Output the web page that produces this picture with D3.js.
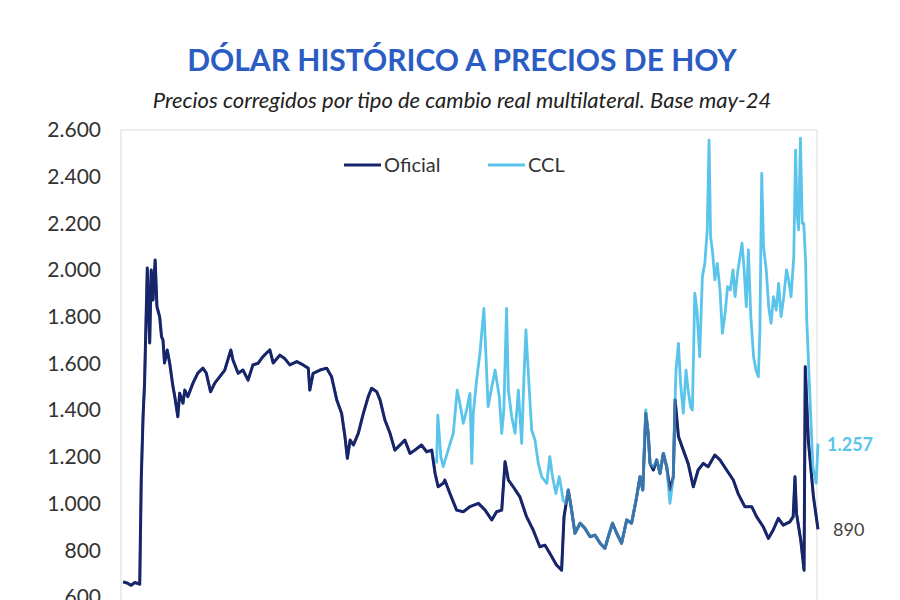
<!DOCTYPE html>
<html>
<head>
<meta charset="utf-8">
<script src="https://cdn.jsdelivr.net/npm/d3@7"></script>
<style>
  html, body { margin: 0; padding: 0; background: #fff; }
  svg { display: block; font-family: Lato, "Open Sans", sans-serif; }
</style>
</head>
<body>
<div id="chart"></div>
<script>
// ---- Data (decimal years, values in pesos at May-24 prices) ----
const oficialT = [2001.45,2001.58,2001.71,2001.84,2002.00,2002.05,2002.11,2002.16,2002.25,2002.33,2002.38,2002.44,2002.51,2002.57,2002.66,2002.72,2002.77,2002.82,2002.91,2002.99,2003.10,2003.16,2003.26,2003.32,2003.43,2003.49,2003.59,2003.76,2003.92,2004.09,2004.20,2004.34,2004.48,2004.64,2004.81,2005.01,2005.08,2005.25,2005.41,2005.58,2005.74,2005.91,2006.07,2006.19,2006.30,2006.41,2006.63,2006.80,2006.96,2007.19,2007.40,2007.57,2007.62,2007.73,2007.96,2008.18,2008.34,2008.51,2008.67,2008.78,2008.86,2008.95,2009.06,2009.22,2009.39,2009.55,2009.66,2009.83,2009.94,2010.10,2010.27,2010.43,2010.60,2010.76,2010.93,2011.09,2011.31,2011.48,2011.65,2011.76,2011.86,2012.03,2012.08,2012.25,2012.47,2012.69,2012.91,2013.19,2013.41,2013.63,2013.79,2013.96,2014.07,2014.18,2014.34,2014.56,2014.78,2015.00,2015.22,2015.39,2015.55,2015.77,2015.94,2016.02,2016.16,2016.27,2016.38,2016.55,2016.71,2016.88,2017.04,2017.21,2017.37,2017.48,2017.62,2017.76,2017.92,2018.09,2018.25,2018.40,2018.53,2018.62,2018.72,2018.80,2018.86,2018.97,2019.08,2019.19,2019.30,2019.41,2019.52,2019.63,2019.69,2019.80,2019.96,2020.12,2020.29,2020.45,2020.62,2020.78,2021.00,2021.17,2021.39,2021.61,2021.77,2021.99,2022.22,2022.38,2022.60,2022.77,2022.93,2023.10,2023.26,2023.48,2023.59,2023.65,2023.70,2023.84,2023.95,2023.99,2024.09,2024.26,2024.41];
const oficialV = [665,660,650,662,655,1101,1372,1516,2009,1688,2000,1872,2043,1843,1800,1715,1700,1602,1658,1602,1500,1458,1372,1473,1430,1486,1458,1516,1559,1580,1559,1479,1516,1543,1572,1658,1615,1558,1572,1529,1594,1601,1629,1645,1658,1602,1636,1620,1594,1608,1594,1580,1486,1558,1572,1580,1543,1444,1387,1287,1194,1272,1251,1301,1387,1458,1494,1479,1444,1358,1301,1229,1251,1272,1215,1229,1251,1222,1229,1129,1072,1087,1101,1043,972,965,987,1001,972,930,965,972,1179,1101,1072,1029,944,887,815,822,787,737,715,944,1058,972,873,916,894,858,865,830,808,858,916,873,830,930,916,1015,1115,1058,1387,1301,1172,1144,1187,1129,1215,1158,1058,1115,1445,1287,1229,1172,1072,1144,1172,1158,1208,1187,1144,1101,1043,987,987,944,901,851,887,937,908,922,944,1115,958,844,715,1586,1272,1029,890];

const cclT = [2011.81,2011.85,2011.95,2012.03,2012.19,2012.36,2012.49,2012.58,2012.69,2012.80,2012.91,2012.97,2013.02,2013.13,2013.24,2013.37,2013.44,2013.51,2013.59,2013.74,2013.88,2013.96,2014.03,2014.12,2014.18,2014.29,2014.40,2014.51,2014.62,2014.70,2014.76,2014.84,2014.95,2015.06,2015.17,2015.28,2015.45,2015.55,2015.64,2015.75,2015.86,2015.94,2015.99,2016.08,2016.16,2016.27,2016.38,2016.55,2016.71,2016.88,2017.04,2017.21,2017.37,2017.48,2017.62,2017.76,2017.92,2018.09,2018.25,2018.40,2018.53,2018.62,2018.72,2018.80,2018.86,2018.97,2019.08,2019.19,2019.30,2019.41,2019.52,2019.63,2019.69,2019.72,2019.80,2019.87,2019.96,2020.05,2020.12,2020.20,2020.26,2020.34,2020.41,2020.50,2020.59,2020.67,2020.75,2020.81,2020.86,2020.93,2021.00,2021.08,2021.17,2021.25,2021.34,2021.42,2021.51,2021.60,2021.67,2021.75,2021.90,2021.97,2022.04,2022.11,2022.19,2022.28,2022.36,2022.44,2022.49,2022.55,2022.61,2022.70,2022.78,2022.86,2022.94,2023.03,2023.11,2023.19,2023.28,2023.37,2023.44,2023.52,2023.61,2023.67,2023.72,2023.77,2023.83,2023.89,2023.94,2024.00,2024.04,2024.13,2024.24,2024.35,2024.41];
const cclV = [1172,1379,1201,1158,1229,1301,1486,1429,1344,1401,1472,1172,1387,1529,1644,1836,1629,1415,1472,1572,1458,1301,1401,1836,1486,1372,1301,1486,1258,1558,1744,1558,1315,1272,1172,1115,1087,1201,1115,1043,1115,1058,1015,1000,1058,972,873,916,894,858,865,830,808,858,916,873,830,930,916,1015,1115,1058,1401,1301,1172,1158,1187,1129,1215,1158,1001,1115,1445,1572,1686,1515,1387,1572,1486,1415,1401,1901,1829,1629,1972,2029,2172,2557,2143,2072,1958,2029,1915,1729,1815,1929,1915,2001,1886,1986,2115,2001,1843,2086,1801,1629,1572,1543,1744,2414,2101,2001,1843,1772,1886,1829,1943,1801,1886,2001,1958,1886,2058,2514,2243,2172,2565,2200,2200,2043,1786,1501,1158,1087,1257];

const yTicks = [600, 800, 1000, 1200, 1400, 1600, 1800, 2000, 2200, 2400, 2600];
const seriesNames = ["Oficial", "CCL"];
const lastLabels = ["890", "1.257"];
const titleText = "DÓLAR HISTÓRICO A PRECIOS DE HOY";
const subtitleText = "Precios corregidos por tipo de cambio real multilateral. Base may-24";

// ---- Helpers ----
function toDate(t) {
  const y = Math.floor(t);
  const start = Date.UTC(y, 0, 1), end = Date.UTC(y + 1, 0, 1);
  return new Date(start + (t - y) * (end - start));
}
const oficial = oficialT.map((t, i) => ({ date: toDate(t), value: oficialV[i] }));
const ccl = cclT.map((t, i) => ({ date: toDate(t), value: cclV[i] }));

const W = 900, H = 600;
const plot = { left: 121, right: 817, top: 130, bottom: 660 };
const colOficial = "#17266b";
const colCCL = "#5bc4ea";

const svg = d3.select("#chart").append("svg").attr("width", W).attr("height", H);
svg.append("rect").attr("width", W).attr("height", H).attr("fill", "#fff");

const x = d3.scaleTime()
  .domain([toDate(2001.414), toDate(2024.41)])
  .range([122, 818]);
const y = d3.scaleLinear().domain([600, 2600]).range([597, 130]);

// Plot frame
svg.append("rect")
  .attr("x", plot.left).attr("y", plot.top)
  .attr("width", plot.right - plot.left).attr("height", plot.bottom - plot.top)
  .attr("fill", "none").attr("stroke", "#dcdcdc").attr("stroke-width", 1);

// Y axis labels
const yAxis = d3.axisLeft(y).tickValues(yTicks).tickSize(0).tickPadding(0)
  .tickFormat(d => d3.format(",")(d).replace(/,/g, "."));
const gy = svg.append("g").attr("transform", "translate(101,0)").call(yAxis);
gy.select(".domain").remove();
gy.selectAll("text").attr("font-size", 21).attr("fill", "#333")
  .attr("font-family", "Lato, sans-serif");

// Lines
const line = d3.line().x(d => x(d.date)).y(d => y(d.value)).curve(d3.curveLinear);
svg.append("path").datum(oficial).attr("d", line)
  .attr("fill", "none").attr("stroke", colOficial).attr("stroke-width", 3)
  .attr("stroke-linejoin", "round");
svg.append("path").datum(ccl).attr("d", line)
  .attr("fill", "none").attr("stroke", colCCL)
  .attr("stroke-width", 2.8).attr("stroke-linejoin", "round");
// translucent Oficial overlay: tints the stretch where both series coincide
svg.append("path").datum(oficial).attr("d", line)
  .attr("fill", "none").attr("stroke", colOficial).attr("stroke-opacity", 0.5)
  .attr("stroke-width", 2.6).attr("stroke-linejoin", "round");

// End labels
const lastO = oficial[oficial.length - 1], lastC = ccl[ccl.length - 1];
svg.append("text").attr("x", 833).attr("y", y(lastO.value)).attr("dy", "0.35em")
  .attr("font-size", 18).attr("fill", "#444").text(lastLabels[0]);
svg.append("text").attr("x", 827).attr("y", y(lastC.value) + 1).attr("dy", "0.35em")
  .attr("font-size", 18).attr("font-weight", "bold").attr("fill", colCCL).text(lastLabels[1]);

// Legend
const legend = svg.append("g");
const legItems = [
  { name: seriesNames[0], color: colOficial, x0: 344 },
  { name: seriesNames[1], color: colCCL, x0: 488 }
];
legItems.forEach(it => {
  legend.append("line").attr("x1", it.x0).attr("x2", it.x0 + 37)
    .attr("y1", 165).attr("y2", 165).attr("stroke", it.color).attr("stroke-width", 3);
  legend.append("text").attr("x", it.x0 + 40).attr("y", 165).attr("dy", "0.35em")
    .attr("font-size", 20).attr("fill", "#333").text(it.name);
});

// Titles
svg.append("text").attr("x", 462).attr("y", 60).attr("dy", "0.35em")
  .attr("text-anchor", "middle").attr("font-size", 30).attr("font-weight", "bold")
  .attr("fill", "#2a5cc4").text(titleText);
svg.append("text").attr("x", 462).attr("y", 100).attr("dy", "0.35em")
  .attr("text-anchor", "middle").attr("font-size", 22).attr("font-style", "italic")
  .attr("fill", "#222").text(subtitleText);
</script>
</body>
</html>
